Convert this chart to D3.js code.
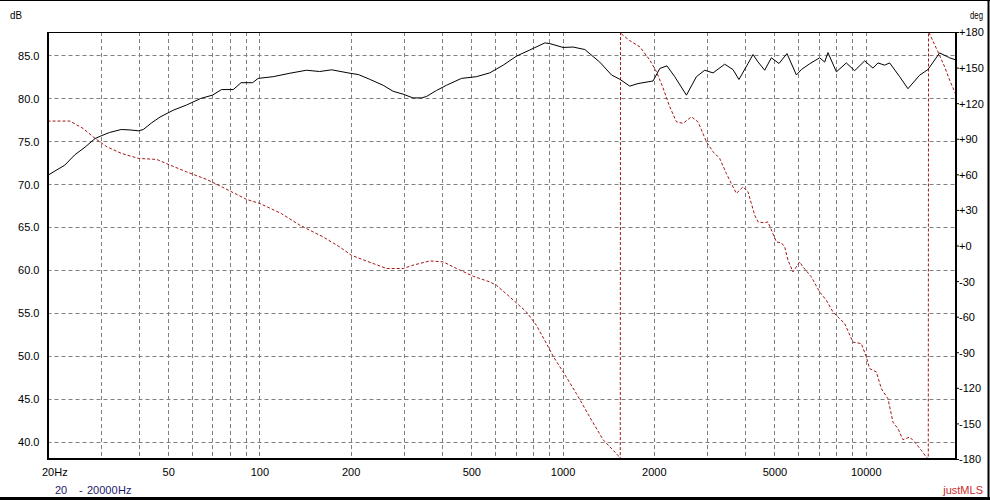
<!DOCTYPE html>
<html>
<head>
<meta charset="utf-8">
<script src="https://cdn.jsdelivr.net/npm/d3@7"></script>
<style>
html,body{margin:0;padding:0;background:#fff;}
svg{display:block;}
text{font-family:"Liberation Sans",Arial,sans-serif;font-size:11px;fill:#000;}
</style>
</head>
<body>
<svg id="chart" width="990" height="500"></svg>
<script>
// ---- data ----
const magFreq = [20,22.8,24.6,26.6,28.7,30,32,35,37.4,40,41.4,44,47,52,57.5,64,70,75,82,87,95,99,111,126,143,158,173,199,212,231,256,276,298,321,343,356,384,414,464,520,575,637,705,779,874,908,1004,1083,1184,1326,1450,1544,1666,1774,1988,2092,2210,2344,2562,2764,2944,3136,3426,3648,3818,4090,4248,4412,4642,4884,5174,5498,5906,6134,6532,7048,7320,7506,8002,8630,9192,9920,10562,10972,11546,11992,12940,13780,15058,16042,17526,18908,20000];
const magDb = [71.0,72.2,73.4,74.3,75.3,75.6,76.0,76.35,76.3,76.2,76.35,77.1,77.8,78.6,79.2,79.96,80.35,81.0,81.0,81.8,81.8,82.3,82.5,82.9,83.25,83.1,83.3,82.9,82.75,82.2,81.5,80.8,80.46,80.03,80.03,80.2,80.9,81.5,82.3,82.5,82.94,83.84,84.9,85.6,86.43,86.35,85.9,85.95,85.66,84.2,82.7,82.2,81.4,81.7,82.0,83.45,83.76,82.5,80.35,82.5,83.25,82.94,83.95,83.33,82.17,84.03,85.08,84.22,83.25,84.7,84.03,85.19,82.7,83.33,84.0,84.7,84.2,85.3,83.06,84.1,83.2,84.34,83.5,84.1,83.84,84.1,82.5,81.1,82.67,83.33,85.27,84.7,84.4];

const phaseFreq = [20,23.7,26.2,28.7,31.4,35.1,40,45.8,50.7,57.5,67,75.1,90.8,100.4,118,136,162,184,201,226,263,298,321,365,404,447,507,575,605,670,760,820,885,931,1004,1111,1229,1360,1524,1550,1553,1564,1666,1797,1939,2040,2144,2256,2374,2497,2661,2797,2982,3136,3298,3469,3558,3743,3938,4090,4302,4412,4642,4758,5074,5270,5404,5540,5754,6054,6208,6616,7048,7416,7796,8100,8520,9074,9672,10046,10302,10840,11258,11838,12296,12772,13266,13960,14498,15250,15840,16080,16110,16250,17298,18204,18908,20000];
const phaseDeg = [104.9,104.9,98.7,90.3,83.2,77.6,73.4,72.6,67.8,62.1,55.7,49.5,38.8,35.4,27,17.1,7.3,-1.2,-8.2,-13.2,-19.4,-19.4,-16.6,-13,-13.8,-19.4,-25.9,-30.7,-33.5,-43.4,-56,-67.3,-82.7,-93.4,-106.5,-124.9,-144.6,-163.7,-177,-180,180,178.3,172.7,167.6,156.4,146.5,133,117,104.3,103,108.5,104.3,87.4,79,73.4,60.8,55,43.9,49.5,45.2,25.6,19.9,19.1,19.9,3.0,2.2,-1.2,-12.4,-22.3,-13.8,-18,-26.5,-39.2,-46.2,-56,-60.3,-65.8,-81.4,-82.7,-94,-103.8,-106.6,-120.7,-129.1,-148.9,-154.4,-163.7,-161.5,-165.7,-172.7,-178.4,-180,180,178.3,163.4,150.7,139.5,125];

const freqTicks = [20,50,100,200,500,1000,2000,5000,10000];
const freqGrid = [30,40,50,60,70,80,90,100,200,300,400,500,600,700,800,900,1000,2000,3000,4000,5000,6000,7000,8000,9000,10000];
const dbTicks = [40,45,50,55,60,65,70,75,80,85];
const phaseTicks = [-180,-150,-120,-90,-60,-30,0,30,60,90,120,150,180];

// ---- layout ----
const L = 47.5, R = 957, T = 32, B = 459;
const svg = d3.select("#chart");

const x = d3.scaleLog().domain([20,20000]).range([L,R]);
const yDb = d3.scaleLinear().domain([38,87.7]).range([B,T]);
const yPh = d3.scaleLinear().domain([-180,180]).range([B,T]);

// outer frame
svg.append("line").attr("x1",0).attr("x2",990).attr("y1",0.5).attr("y2",0.5).attr("stroke","#000").attr("stroke-width",1);
svg.append("line").attr("x1",988.5).attr("x2",988.5).attr("y1",0).attr("y2",500).attr("stroke","#000").attr("stroke-width",2);
svg.append("line").attr("x1",0).attr("x2",990).attr("y1",498.5).attr("y2",498.5).attr("stroke","#000").attr("stroke-width",3);

// grid
const grid = svg.append("g").attr("stroke","#808080").attr("stroke-width",1).attr("stroke-dasharray","4,3");
grid.selectAll("line.v").data(freqGrid).join("line")
  .attr("x1",d=>Math.round(x(d))+0.5).attr("x2",d=>Math.round(x(d))+0.5)
  .attr("y1",T).attr("y2",B);
grid.selectAll("line.h").data(dbTicks).join("line")
  .attr("x1",L).attr("x2",R)
  .attr("y1",d=>Math.round(yDb(d))+0.5).attr("y2",d=>Math.round(yDb(d))+0.5);

// clip
svg.append("clipPath").attr("id","clip").append("rect").attr("x",L).attr("y",T-1).attr("width",R-L).attr("height",B-T+2);

// phase curve
const phaseData = phaseFreq.map((f,i)=>({f, v:phaseDeg[i]}));
svg.append("path").datum(phaseData)
  .attr("clip-path","url(#clip)")
  .attr("fill","none").attr("stroke","#a31515").attr("stroke-width",1)
  .attr("stroke-dasharray","3,2")
  .attr("d", d3.line().x(d=>x(d.f)).y(d=>yPh(d.v)));

// magnitude curve
const magData = magFreq.map((f,i)=>({f, v:magDb[i]}));
svg.append("path").datum(magData)
  .attr("clip-path","url(#clip)")
  .attr("fill","none").attr("stroke","#000").attr("stroke-width",1)
  .attr("d", d3.line().x(d=>x(d.f)).y(d=>yDb(d.v)));

// plot frame
svg.append("line").attr("x1",L).attr("x2",R).attr("y1",T+0.5).attr("y2",T+0.5).attr("stroke","#000").attr("stroke-width",1);
svg.append("line").attr("x1",48).attr("x2",48).attr("y1",T).attr("y2",B+1).attr("stroke","#000").attr("stroke-width",2);
svg.append("line").attr("x1",956).attr("x2",956).attr("y1",T).attr("y2",B+1).attr("stroke","#000").attr("stroke-width",2);
svg.append("line").attr("x1",47).attr("x2",957).attr("y1",459).attr("y2",459).attr("stroke","#000").attr("stroke-width",2);

// left axis
const leftAxis = svg.append("g").attr("transform",`translate(${L},0)`)
  .call(d3.axisLeft(yDb).tickValues(dbTicks).tickFormat(d3.format(".1f")).tickSize(0).tickPadding(8));
leftAxis.select(".domain").remove();
leftAxis.selectAll("text").attr("font-family","Liberation Sans, Arial, sans-serif").attr("font-size",11).attr("fill","#000").attr("dy","0.36em");

// right axis
const rightAxis = svg.append("g").attr("transform",`translate(956,0)`)
  .call(d3.axisRight(yPh).tickValues(phaseTicks).tickFormat(d=> d>=0 ? "+"+d : "-"+Math.abs(d)).tickSize(3).tickPadding(0));
rightAxis.select(".domain").remove();
rightAxis.selectAll("line").attr("stroke","#000");
rightAxis.selectAll("text").attr("font-family","Liberation Sans, Arial, sans-serif").attr("font-size",11).attr("fill","#000").attr("dy","0.36em");

// bottom axis
const bottomAxis = svg.append("g").attr("transform",`translate(0,${B})`)
  .call(d3.axisBottom(x).tickValues(freqTicks).tickFormat(d=> d===20 ? "20Hz" : String(d)).tickSize(0).tickPadding(9));
bottomAxis.select(".domain").remove();
bottomAxis.selectAll("text").attr("font-family","Liberation Sans, Arial, sans-serif").attr("font-size",11).attr("fill","#000");
bottomAxis.selectAll("text").filter(d=>d===20).attr("text-anchor","start").attr("x",-6);

// axis titles
svg.append("text").attr("x",10).attr("y",19).attr("textLength",12).attr("lengthAdjust","spacingAndGlyphs").text("dB");
svg.append("text").attr("x",970).attr("y",19).attr("textLength",13).attr("lengthAdjust","spacingAndGlyphs").text("deg");

// footer
const foot = svg.append("text").attr("y",494).style("fill","#1a1a6a");
foot.append("tspan").attr("x",55).text("20");
foot.append("tspan").attr("x",79).text("-");
foot.append("tspan").attr("x",87).text("20000");
foot.append("tspan").attr("x",118).text("Hz");
svg.append("text").attr("x",983).attr("y",494).attr("text-anchor","end").style("fill","#cc2b2b").text("justMLS");
</script>
</body>
</html>
